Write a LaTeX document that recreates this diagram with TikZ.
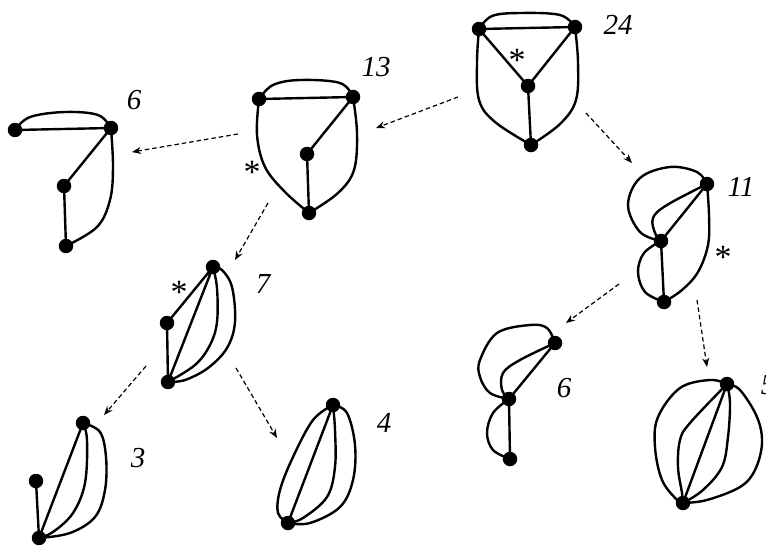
\documentclass[tikz,border=0pt]{standalone}
\usepackage{fontspec}
\setmainfont{Liberation Serif}
\usetikzlibrary{arrows.meta}
\pgfdeclarelayer{bg}
\pgfsetlayers{bg,main}
\tikzset{
  vtx/.style={circle,fill=black,inner sep=0pt,minimum size=14.5pt},
  edge/.style={line width=2.4pt,line join=round,line cap=round},
  dasharrow/.style={line width=1.2pt,dash pattern=on 4.5pt off 3pt,-{Stealth[length=9pt,width=7pt]}},
  lbl/.style={font=\fontsize{29}{29}\selectfont\itshape,inner sep=0pt},
  starlbl/.style={font=\fontsize{34}{34}\selectfont,inner sep=0pt}
}
\begin{document}
\begin{tikzpicture}[x=1pt,y=-1pt]
\useasboundingbox (0,0) rectangle (766,546);

% ---------- graph 24
\node[vtx] (a24) at (479,29) {};
\node[vtx] (b24) at (575,27) {};
\node[vtx] (c24) at (528,86) {};
\node[vtx] (d24) at (531,145) {};
\node[lbl] (l24) at (618,25) {24};
\node[starlbl] (s24) at (517,60) {*};

% ---------- graph 13
\node[vtx] (a13) at (259,99) {};
\node[vtx] (b13) at (353,97) {};
\node[vtx] (c13) at (307,154) {};
\node[vtx] (d13) at (309,213) {};
\node[lbl] (l13) at (376,67) {13};
\node[starlbl] (s13) at (252,172) {*};

% ---------- graph 6 (left)
\node[vtx] (a6) at (15,130) {};
\node[vtx] (b6) at (111,128) {};
\node[vtx] (c6) at (64,186) {};
\node[vtx] (d6) at (66,246) {};
\node[lbl] (l6) at (134,100) {6};

% ---------- graph 11
\node[vtx] (a11) at (707,184) {};
\node[vtx] (b11) at (661,241) {};
\node[vtx] (c11) at (664,302) {};
\node[lbl] (l11) at (741,187) {11};
\node[starlbl] (s11) at (723,257) {*};

% ---------- graph 7
\node[vtx] (a7) at (213,267) {};
\node[vtx] (b7) at (167,323) {};
\node[vtx] (c7) at (168,382) {};
\node[lbl] (l7) at (263,284) {7};
\node[starlbl] (s7) at (179,292) {*};

% ---------- graph 3
\node[vtx] (a3) at (83,423) {};
\node[vtx] (b3) at (36,481) {};
\node[vtx] (c3) at (39,538) {};
\node[lbl] (l3) at (138,458) {3};

% ---------- graph 4
\node[vtx] (a4) at (333,405) {};
\node[vtx] (b4) at (288,523) {};
\node[lbl] (l4) at (384,423) {4};

% ---------- graph 6 (right)
\node[vtx] (a6r) at (555,343) {};
\node[vtx] (b6r) at (509,399) {};
\node[vtx] (c6r) at (510,459) {};
\node[lbl] (l6r) at (564,388) {6};

% ---------- graph 5 (label cut by the right edge, as in the reference)
\node[vtx] (a5) at (727,384) {};
\node[vtx] (b5) at (683,503) {};
\node[lbl] (l5) at (768,385) {5};

% ---------- arrow end points
\coordinate (r1s) at (458,97);  \coordinate (r1e) at (376,128);
\coordinate (r2s) at (586,113); \coordinate (r2e) at (632,163);
\coordinate (r3s) at (238,134); \coordinate (r3e) at (132,152);
\coordinate (r4s) at (268,203); \coordinate (r4e) at (235,260);
\coordinate (r5s) at (619,284); \coordinate (r5e) at (566,323);
\coordinate (r6s) at (697,300); \coordinate (r6e) at (707,367);
\coordinate (r7s) at (146,366); \coordinate (r7e) at (104,415);
\coordinate (r8s) at (236,368); \coordinate (r8e) at (277,438);

\draw[dasharrow] (r1s) -- (r1e);
\draw[dasharrow] (r2s) -- (r2e);
\draw[dasharrow] (r3s) -- (r3e);
\draw[dasharrow] (r4s) -- (r4e);
\draw[dasharrow] (r5s) -- (r5e);
\draw[dasharrow] (r6s) -- (r6e);
\draw[dasharrow] (r7s) -- (r7e);
\draw[dasharrow] (r8s) -- (r8e);

\begin{pgfonlayer}{bg}
% graph 24
\draw[edge] (a24.center) -- (b24.center);
\draw[edge] (a24.center) -- (c24.center) -- (b24.center);
\draw[edge] (c24.center) -- (d24.center);
\draw[edge] plot[smooth,tension=0.6] coordinates {(a24.center) (492,16) (520,13) (560,15) (b24.center)};
\draw[edge] plot[smooth,tension=0.6] coordinates {(a24.center) (477,62) (479,100) (495,122) (d24.center)};
\draw[edge] plot[smooth,tension=0.6] coordinates {(b24.center) (578,62) (576,100) (560,124) (d24.center)};
% graph 13
\draw[edge] (a13.center) -- (b13.center) -- (c13.center) -- (d13.center);
\draw[edge] plot[smooth,tension=0.6] coordinates {(a13.center) (273,85) (300,80) (340,83) (b13.center)};
\draw[edge] plot[smooth,tension=0.6] coordinates {(a13.center) (257,135) (265,167) (285,192) (d13.center)};
\draw[edge] plot[smooth,tension=0.6] coordinates {(b13.center) (357,133) (354,170) (338,193) (d13.center)};
% graph 6 left
\draw[edge] (a6.center) -- (b6.center) -- (c6.center) -- (d6.center);
\draw[edge] plot[smooth,tension=0.6] coordinates {(a6.center) (30,117) (65,112) (98,115) (b6.center)};
\draw[edge] plot[smooth,tension=0.6] coordinates {(b6.center) (113,167) (110,200) (97,227) (d6.center)};
% graph 11
\draw[edge] (a11.center) -- (b11.center) -- (c11.center);
\draw[edge] plot[smooth,tension=0.6] coordinates {(a11.center) (697,172) (670,167) (640,178) (628,205) (640,232) (b11.center)};
\draw[edge] plot[smooth,tension=0.6] coordinates {(a11.center) (667,205) (653,218) (655,233) (b11.center)};
\draw[edge] plot[smooth,tension=0.6] coordinates {(b11.center) (644,253) (638,272) (645,292) (c11.center)};
\draw[edge] plot[smooth,tension=0.6] coordinates {(a11.center) (709,215) (708,245) (698,272) (682,290) (c11.center)};
% graph 7
\draw[edge] (a7.center) -- (b7.center) -- (c7.center) -- (a7.center);
\draw[edge] plot[smooth,tension=0.6] coordinates {(a7.center) (217,288) (217,322) (210,345) (195,365) (c7.center)};
\draw[edge] plot[smooth,tension=0.6] coordinates {(a7.center) (222,270) (232,287) (235,322) (227,348) (208,368) (185,380) (c7.center)};
% graph 3
\draw[edge] (a3.center) -- (c3.center) -- (b3.center);
\draw[edge] plot[smooth,tension=0.6] coordinates {(a3.center) (87,440) (85,483) (73,513) (53,532) (c3.center)};
\draw[edge] plot[smooth,tension=0.6] coordinates {(a3.center) (100,432) (106,457) (105,490) (95,517) (70,533) (c3.center)};
% graph 4
\draw[edge] (a4.center) -- (b4.center);
\draw[edge] plot[smooth,tension=0.6] coordinates {(a4.center) (335,430) (335,467) (327,497) (303,518) (b4.center)};
\draw[edge] plot[smooth,tension=0.6] coordinates {(a4.center) (347,413) (355,445) (353,480) (340,507) (310,523) (b4.center)};
\draw[edge] plot[smooth,tension=0.6] coordinates {(a4.center) (313,420) (293,457) (280,490) (278,513) (b4.center)};
% graph 6 right
\draw[edge] (a6r.center) -- (b6r.center) -- (c6r.center);
\draw[edge] plot[smooth,tension=0.6] coordinates {(a6r.center) (547,328) (530,325) (497,333) (480,360) (480,377) (490,393) (b6r.center)};
\draw[edge] plot[smooth,tension=0.6] coordinates {(a6r.center) (520,360) (503,373) (502,390) (b6r.center)};
\draw[edge] plot[smooth,tension=0.6] coordinates {(b6r.center) (493,413) (487,433) (493,450) (c6r.center)};
% graph 5
\draw[edge] (a5.center) -- (b5.center);
\draw[edge] plot[smooth,tension=0.6] coordinates {(a5.center) (690,423) (680,440) (678,467) (682,493) (b5.center)};
\draw[edge] plot[smooth,tension=0.6] coordinates {(a5.center) (730,403) (728,437) (722,467) (703,490) (b5.center)};
\draw[edge] plot[smooth,tension=0.6] coordinates {(a5.center) (710,380) (680,388) (658,417) (655,447) (662,480) (677,500) (b5.center)};
\draw[edge] plot[smooth,tension=0.6] coordinates {(a5.center) (740,390) (757,417) (762,443) (755,470) (740,487) (707,500) (b5.center)};
\end{pgfonlayer}
\end{tikzpicture}
\end{document}
